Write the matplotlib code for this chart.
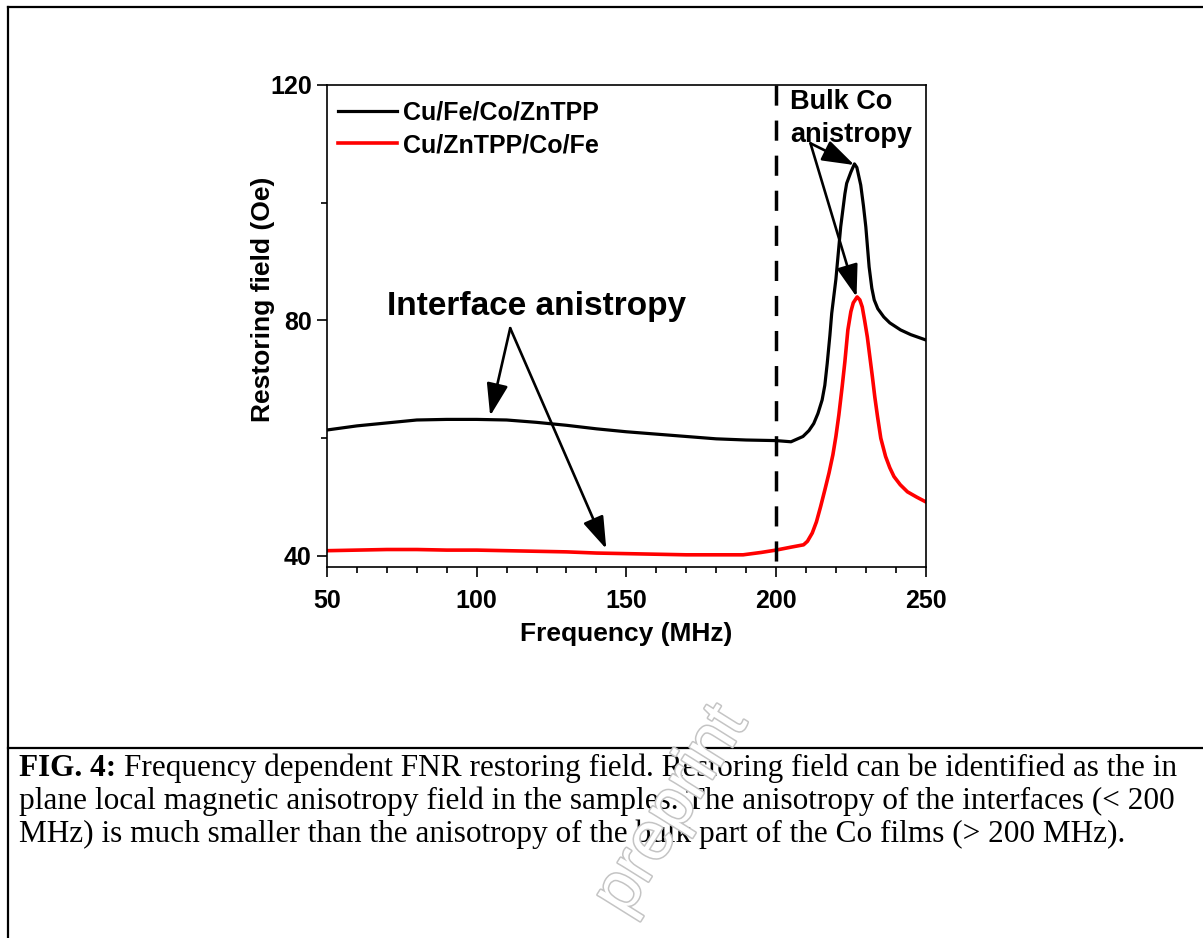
"""
FNR restoring field vs. frequency for the two layer stacks (FIG. 4).
"""

import numpy as np
import matplotlib
matplotlib.use("Agg")
import matplotlib.pyplot as plt
from matplotlib.lines import Line2D
from matplotlib.ticker import MultipleLocator, FixedLocator
import matplotlib.patheffects as pe

# ---- data ----
freq_fe = [50, 60, 70, 80, 90, 100, 110, 120, 130, 140, 150, 160, 170, 180,
           190, 200, 205, 209, 211, 212.6, 214, 215.4, 216.3, 217.1, 218, 218.6,
           220, 221.6, 223, 223.6, 225, 226.2, 227, 228.3, 229.2, 230, 231.1,
           232, 232.8, 234, 236, 238, 241.6, 245, 250]
field_fe = [61.4, 62.1, 62.6, 63.1, 63.2, 63.2, 63.1, 62.7, 62.2, 61.6, 61.1,
            60.7, 60.3, 59.9, 59.7, 59.6, 59.4, 60.3, 61.3, 62.5, 64.2, 66.5,
            69.0, 72.7, 77.5, 81.2, 87.0, 95.9, 101.5, 103.3, 105.2, 106.6,
            106.0, 103.0, 99.5, 95.9, 89.1, 85.5, 83.5, 82.0, 80.6, 79.6, 78.4,
            77.6, 76.7]

freq_zn = [50, 60, 70, 80, 90, 100, 110, 120, 130, 140, 150, 160, 170, 180,
           189, 195, 200, 205, 209.2, 210.5, 212.1, 213.5, 214.9, 216.3, 217.7,
           219, 220, 221, 222.1, 223, 224, 225, 225.8, 227.1, 228, 228.8, 229.6,
           230.5, 231.3, 232.2, 233, 233.9, 235, 236.6, 238, 239.4, 241.5,
           243.9, 247, 250]
field_zn = [40.9, 41.0, 41.1, 41.1, 41.0, 41.0, 40.9, 40.8, 40.7, 40.5, 40.4,
            40.3, 40.2, 40.2, 40.2, 40.6, 41.0, 41.5, 41.9, 42.5, 43.9, 45.8,
            48.4, 51.2, 54.1, 57.2, 60.3, 64.0, 68.8, 73.0, 78.4, 81.5, 83.0,
            84.0, 83.5, 82.3, 80.0, 77.2, 74.0, 70.4, 67.0, 63.7, 60.0, 56.9,
            55.0, 53.5, 52.1, 50.9, 50.0, 49.2]

series_labels = ["Cu/Fe/Co/ZnTPP", "Cu/ZnTPP/Co/Fe"]
boundary_freq = 200

# annotation arrows: (start, tip) in data units
interface_arrows = [((111.2, 78.7), (104.5, 63.8)),
                    ((111.2, 78.7), (143.3, 41.2))]
bulk_arrows = [((211.5, 110.1), (226.2, 106.4)),
               ((211.5, 110.1), (226.9, 84.0))]

caption_bold = "FIG. 4:"
caption_lines = [
    "Frequency dependent FNR restoring field. Restoring field can be identified as the in",
    "plane local magnetic anisotropy field in the samples. The anisotropy of the interfaces (< 200",
    "MHz) is much smaller than the anisotropy of the bulk part of the Co films (> 200 MHz).",
]

W, H = 1203, 938


def main() -> None:
    plt.rcParams["font.family"] = ["Liberation Sans", "DejaVu Sans"]
    plt.rcParams["font.weight"] = "bold"
    plt.rcParams["axes.labelweight"] = "bold"

    fig = plt.figure(figsize=(W / 100, H / 100), dpi=100)
    ax = fig.add_axes([327 / W, 1 - 567 / H, (925.7 - 327) / W, (567 - 85) / H])

    ax.plot(freq_fe, field_fe, color="black", lw=2.3, label=series_labels[0])
    ax.plot(freq_zn, field_zn, color="#ff0000", lw=2.6, label=series_labels[1])

    # dashed boundary line, pattern starting at the top
    ax.plot([boundary_freq, boundary_freq], [1, 0], transform=ax.get_xaxis_transform(),
            color="black", lw=2.5, dashes=(5.8, 4.3))

    ax.set_xlim(50, 250)
    ax.set_ylim(38.13, 120)
    ax.xaxis.set_major_locator(MultipleLocator(50))
    ax.xaxis.set_minor_locator(MultipleLocator(10))
    ax.yaxis.set_major_locator(FixedLocator([40, 80, 120]))
    ax.yaxis.set_minor_locator(FixedLocator([60, 100]))
    ax.tick_params(which="major", direction="out", length=7, width=1.2,
                   labelsize=18, pad=4)
    ax.tick_params(which="minor", direction="out", length=4, width=1.2)
    ax.tick_params(axis="x", which="major", pad=9)
    for s in ax.spines.values():
        s.set_linewidth(1.2)

    ax.set_xlabel("Frequency (MHz)", fontsize=19, labelpad=6)
    ax.set_ylabel("Restoring field (Oe)", fontsize=19, va="center")
    ax.yaxis.set_label_coords(-0.107, 0.556)

    ax.legend(loc="upper left", bbox_to_anchor=(0.018, 0.968), frameon=False,
              fontsize=18, handlelength=2.36, handletextpad=0.25,
              labelspacing=0.35, borderpad=0, borderaxespad=0)

    ax.text(120.1, 80.9, "Interface anistropy", fontsize=24, ha="center", va="baseline")
    ax.text(204.8, 116.0, "Bulk Co", fontsize=19.5, ha="left", va="baseline")
    ax.text(204.8, 110.4, "anistropy", fontsize=19.5, ha="left", va="baseline")

    for start, tip in interface_arrows + bulk_arrows:
        ax.annotate("", xy=tip, xytext=start,
                    arrowprops=dict(arrowstyle="-|>,head_length=0.9,head_width=0.3",
                                    mutation_scale=22, color="black", lw=1.9,
                                    shrinkA=0, shrinkB=0))

    # page frame and caption box
    frame = dict(transform=fig.transFigure, color="black", lw=1.6)
    fig.add_artist(Line2D([8 / W, 8 / W], [0, 1 - 7 / H], **frame))
    fig.add_artist(Line2D([8 / W, 1], [1 - 7 / H, 1 - 7 / H], **frame))
    fig.add_artist(Line2D([8 / W, 1], [1 - 748 / H, 1 - 748 / H], **frame))

    serif = ["Liberation Serif", "DejaVu Serif"]
    cap_size = 22.5
    baselines = [776, 809, 842]
    renderer = fig.canvas.get_renderer()
    tb = fig.text(19 / W, 1 - baselines[0] / H, caption_bold, family=serif,
                  weight="bold", fontsize=cap_size, va="baseline")
    x_after = tb.get_window_extent(renderer).x1 + cap_size * 100 / 72 * 0.25
    fig.text(x_after / W, 1 - baselines[0] / H, caption_lines[0], family=serif,
             weight="normal", fontsize=cap_size, va="baseline")
    for line, yb in zip(caption_lines[1:], baselines[1:]):
        fig.text(19 / W, 1 - yb / H, line, family=serif, weight="normal",
                 fontsize=cap_size, va="baseline")

    # faint outlined watermark
    fig.text(748 / W, 1 - 722 / H, "preprint", fontsize=49, weight="normal",
             color="white", rotation=58, rotation_mode="anchor",
             ha="right", va="baseline", zorder=10,
             path_effects=[pe.withStroke(linewidth=2.2, foreground="#c4c4c4")])

    fig.savefig("out.png", dpi=100)


if __name__ == "__main__":
    main()
